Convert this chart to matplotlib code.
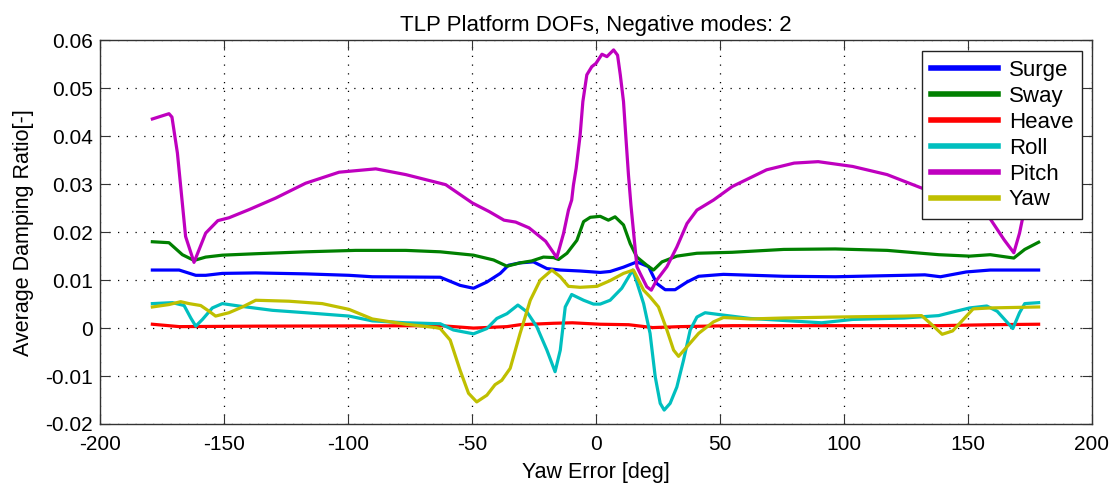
import matplotlib
matplotlib.use("Agg")
import matplotlib.pyplot as plt
import numpy as np

plt.rcParams['font.family'] = ['Liberation Sans', 'DejaVu Sans']
plt.rcParams['axes.unicode_minus'] = False

# values (yaw error [deg], damping ratio [-])
surge_x = [-178.9, -168.1, -161.4, -157.4, -150.7, -137.2, -117.1, -99.6, -90.2, -62.8, -54.8, -49.4,
           -44, -38.6, -35.3, -30.6, -25.2, -19.8, -14.4, -6.4, 1.7, 5.7, 11.1, 16.5, 21.2, 24.5, 27.9,
           31.9, 36.7, 41.4, 51.4, 75.7, 96.5, 124.3, 132.6, 138.9, 149.3, 159, 178.5]
surge_y = [0.0121, 0.0121, 0.0110, 0.0110, 0.0114, 0.0115, 0.0113, 0.0110, 0.0107, 0.0106, 0.0089, 0.0083,
           0.0096, 0.0114, 0.0131, 0.0136, 0.0138, 0.0124, 0.0121, 0.0119, 0.0116, 0.0118, 0.0127, 0.0138,
           0.0128, 0.0093, 0.0080, 0.0080, 0.0096, 0.0108, 0.0112, 0.0108, 0.0107, 0.0110, 0.0111, 0.0107,
           0.0117, 0.0121, 0.0121]

sway_x = [-178.9, -172.2, -166.8, -162.1, -157.4, -150.7, -137.2, -117.1, -96.9, -76.7, -62.8, -49.4,
          -41.3, -35.9, -30.6, -25.9, -21.2, -17.1, -15.1, -11.7, -7.7, -5, -2.3, 1.7, 5, 7.7, 11.1, 13.8,
          16.5, 20.5, 23.2, 26.6, 32.6, 40.7, 54.9, 75.7, 96.5, 117.4, 138.2, 150.7, 159, 168.5, 172.9, 178.5]
sway_y = [0.0180, 0.0178, 0.0153, 0.0141, 0.0148, 0.0152, 0.0155, 0.0159, 0.0162, 0.0162, 0.0159, 0.0152,
          0.0142, 0.0129, 0.0136, 0.0140, 0.0148, 0.0147, 0.0143, 0.0156, 0.0183, 0.0222, 0.0231, 0.0233,
          0.0225, 0.0232, 0.0215, 0.0176, 0.0148, 0.0131, 0.0121, 0.0138, 0.0150, 0.0156, 0.0158, 0.0164,
          0.0165, 0.0162, 0.0153, 0.0150, 0.0153, 0.0146, 0.0164, 0.0179]

heave_x = [-178.9, -168, -137, -62.8, -49.4, -35.9, -30.6, -17.1, -9.5, 1.7, 13.2, 22.9, 34, 55, 138, 159, 178.5]
heave_y = [0.0008, 0.0003, 0.0004, 0.0005, 0.0000, 0.0003, 0.0007, 0.0010, 0.0011, 0.0008, 0.0007, 0.0001,
           0.0003, 0.0005, 0.0005, 0.0007, 0.0008]

roll_x = [-178.9, -170.8, -166.1, -163.4, -161.4, -158.7, -154.7, -150.7, -144, -130.5, -117.1, -99.6, -90.2,
          -76.7, -62.8, -57.5, -49.4, -44, -40, -35.9, -31.5, -27.9, -23.9, -19.8, -16.5, -14.4, -12.4, -9.8,
          -5, -1, 1.7, 5.7, 10.4, 14.8, 16.2, 19.2, 21.8, 23.9, 25.9, 27.5, 29.9, 32.6, 35.3, 38, 40.7, 44,
          51.4, 62.2, 68.8, 91, 103.5, 124.3, 138.2, 145.1, 150.7, 157.6, 161.8, 166, 168.1, 170.8, 172.9, 178.5]
roll_y = [0.0051, 0.0053, 0.0047, 0.0021, 0.0004, 0.0018, 0.0042, 0.0051, 0.0046, 0.0037, 0.0032, 0.0025,
          0.0015, 0.0011, 0.0009, -0.0004, -0.0012, -0.0001, 0.0020, 0.0030, 0.0048, 0.0034, 0.0003, -0.0046,
          -0.0091, -0.0046, 0.0044, 0.0070, 0.0058, 0.0050, 0.0050, 0.0058, 0.0083, 0.0121, 0.0100, 0.0051,
          -0.0011, -0.0102, -0.0157, -0.0171, -0.0157, -0.0123, -0.0067, -0.0004, 0.0023, 0.0032, 0.0027,
          0.0020, 0.0018, 0.0011, 0.0018, 0.0021, 0.0026, 0.0035, 0.0042, 0.0046, 0.0035, 0.0011, -0.0001,
          0.0032, 0.0051, 0.0053]

pitch_x = [-178.9, -172.2, -171, -168.8, -165.5, -162.1, -157.4, -152.5, -148, -139.9, -129.2, -117.1,
           -103.6, -88.8, -76.7, -60.6, -49.9, -43.1, -37.1, -32.4, -27, -20.3, -15.8, -13.1, -11.1, -9.8,
           -9.1, -8, -6.4, -5.3, -3.7, -1.7, 0, 2.4, 4.4, 7.1, 8.7, 9.8, 11.1, 12, 13.1, 14.1, 16.5, 17.8,
           20.5, 22.3, 24.5, 28.6, 32.6, 36.7, 40.7, 47.4, 54.9, 68.8, 79.9, 89.6, 103.5, 117.4, 131.3,
           158.3, 164.6, 168.5, 170.8, 172.2, 174, 176, 178.5]
pitch_y = [0.0436, 0.0447, 0.0440, 0.0365, 0.0191, 0.0137, 0.0198, 0.0224, 0.0230, 0.0247, 0.0271, 0.0302,
           0.0325, 0.0332, 0.0320, 0.0299, 0.0261, 0.0243, 0.0225, 0.0221, 0.0209, 0.0181, 0.0147, 0.0197,
           0.0246, 0.0267, 0.0298, 0.0333, 0.0402, 0.0472, 0.0528, 0.0545, 0.0552, 0.0571, 0.0566, 0.0580,
           0.0569, 0.0528, 0.0472, 0.0402, 0.0319, 0.0256, 0.0128, 0.0114, 0.0086, 0.0079, 0.0100, 0.0128,
           0.0169, 0.0218, 0.0246, 0.0267, 0.0295, 0.0330, 0.0344, 0.0347, 0.0337, 0.0320, 0.0292, 0.0233,
           0.0184, 0.0157, 0.0198, 0.0233, 0.0380, 0.0430, 0.0440]

yaw_x = [-178.9, -172.2, -167.5, -164.1, -159.4, -156, -153.4, -148, -142.6, -137.2, -123.8, -110.4, -99.6,
         -90.2, -76.7, -64.6, -62.8, -58.8, -54.8, -51.4, -48.1, -44, -40.7, -38, -34.6, -30.6, -26.5, -22.5,
         -17.8, -14.4, -11.1, -6.4, 0.4, 5.7, 11.1, 15.1, 19.2, 21.8, 25.2, 28.6, 31.3, 33.3, 36.7, 41.4, 47.4,
         51.4, 62.2, 75.7, 96.5, 124.3, 131.3, 136.1, 139.6, 143.8, 152.1, 159, 178.5]
yaw_y = [0.0044, 0.0049, 0.0055, 0.0051, 0.0047, 0.0035, 0.0025, 0.0032, 0.0044, 0.0058, 0.0056, 0.0051,
         0.0039, 0.0019, 0.0008, 0.0001, -0.0001, -0.0025, -0.0088, -0.0136, -0.0154, -0.0140, -0.0118,
         -0.0109, -0.0084, -0.0011, 0.0058, 0.0100, 0.0121, 0.0107, 0.0087, 0.0085, 0.0087, 0.0099, 0.0114,
         0.0121, 0.0079, 0.0065, 0.0044, -0.0004, -0.0046, -0.0059, -0.0039, -0.0011, 0.0013, 0.0022, 0.0019,
         0.0021, 0.0023, 0.0025, 0.0026, 0.0004, -0.0013, -0.0006, 0.0040, 0.0042, 0.0044]

series = [
    ('Surge', surge_x, surge_y, (0, 0, 1)),
    ('Sway', sway_x, sway_y, (0, 0.5, 0)),
    ('Heave', heave_x, heave_y, (1, 0, 0)),
    ('Roll', roll_x, roll_y, (0, 0.75, 0.75)),
    ('Pitch', pitch_x, pitch_y, (0.75, 0, 0.75)),
    ('Yaw', yaw_x, yaw_y, (0.75, 0.75, 0)),
]

fig = plt.figure(figsize=(11.14, 4.87), dpi=100)
ax = fig.add_axes([0.0898, 0.1294, 0.8904, 0.7878])

for name, xs, ys, col in series:
    ax.plot(xs, ys, color=col, linewidth=2.3, label=name, solid_joinstyle='round')

ax.set_xlim(-200, 200)
ax.set_ylim(-0.02, 0.06)
ax.set_xticks(np.arange(-200, 201, 50))
ax.set_yticks(np.arange(-0.02, 0.061, 0.01))
ax.set_yticklabels(['-0.02', '-0.01', '0', '0.01', '0.02', '0.03', '0.04', '0.05', '0.06'])

ax.grid(True, color='black', linestyle=(0, (1, 6)), linewidth=0.9)
ax.set_axisbelow(True)
ax.tick_params(direction='in', length=7, width=0.8, top=True, right=True, labelsize=15, color='#333333')
ax.tick_params(axis='x', pad=8)
ax.tick_params(axis='y', pad=5)
for sp in ax.spines.values():
    sp.set_color('#333333')
    sp.set_linewidth(1.0)

ax.set_title('TLP Platform DOFs, Negative modes: 2', fontsize=16, pad=7)
ax.set_xlabel('Yaw Error [deg]', fontsize=15.5, labelpad=6)
ax.set_ylabel('Average Damping Ratio[-]', fontsize=15.5, labelpad=8)

leg = ax.legend(loc='upper right', bbox_to_anchor=(0.99, 0.972), borderaxespad=0, fontsize=16,
                fancybox=False, framealpha=1, edgecolor='#222222', handlelength=3.0,
                labelspacing=0.22, handletextpad=0.5, borderpad=0.4)
leg.get_frame().set_linewidth(1.0)
for line in leg.get_lines():
    line.set_linewidth(4)

fig.savefig('out.png', dpi=100)
